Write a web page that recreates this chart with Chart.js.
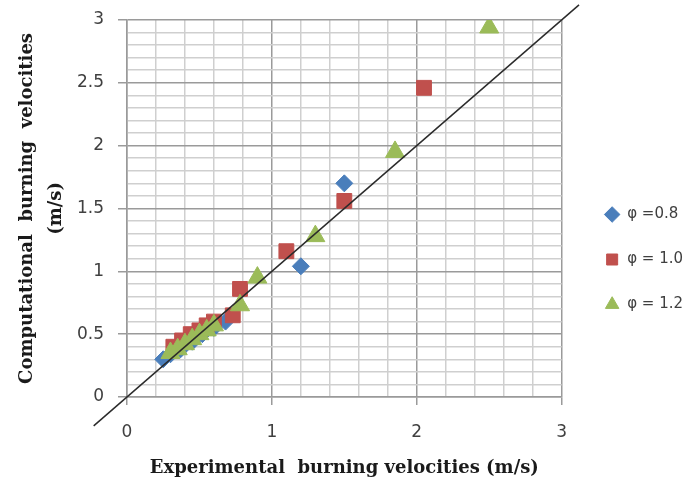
<!DOCTYPE html>
<html>
<head>
<meta charset="utf-8">
<script src="https://cdn.jsdelivr.net/npm/chart.js@4/dist/chart.umd.min.js"></script>
<style>
    html, body { margin: 0; padding: 0; background: #fff; }
    #wrap { width: 697px; height: 485px; }
</style>
</head>
<body>
<div id="wrap"><canvas id="chart" width="697" height="485"></canvas></div>
<script>
// values
const seriesNames = ['φ =0.8', 'φ = 1.0', 'φ = 1.2'];

const phi08X = [0.25, 0.30, 0.37, 0.45, 0.52, 0.60, 0.68, 1.20, 1.50];
const phi08Y = [0.30, 0.34, 0.38, 0.44, 0.50, 0.55, 0.60, 1.04, 1.70];

const phi10X = [0.32, 0.38, 0.44, 0.50, 0.55, 0.60, 0.73, 0.78, 1.10, 1.50, 2.05];
const phi10Y = [0.40, 0.45, 0.50, 0.53, 0.57, 0.60, 0.65, 0.86, 1.16, 1.56, 2.46];

const phi12X = [0.30, 0.35, 0.40, 0.45, 0.50, 0.55, 0.60, 0.78, 0.90, 1.30, 1.85, 2.50];
const phi12Y = [0.35, 0.38, 0.42, 0.46, 0.50, 0.53, 0.57, 0.73, 0.95, 1.28, 1.95, 2.94];

// y = x reference line, drawn past the plot edges
const refLine = [-0.23, 3.12];

const xTickLabels = ['0', '1', '2', '3'];
const yTickLabels = ['0', '0.5', '1', '1.5', '2', '2.5', '3'];

function toPoints(xs, ys) {
    return xs.map((x, i) => ({ x: x, y: ys[i] }));
}

function isMajor(v, step) {
    const r = v / step;
    return Math.abs(r - Math.round(r)) < 1e-6;
}

// nudge the legend block to where it sits in the original
const legendShift = {
    id: 'legendShift',
    afterLayout(chart) {
        const lg = chart.legend;
        lg.left += 13; lg.right += 13;
        lg.top += 10; lg.bottom += 10;
    }
};

const tickFont = { family: 'DejaVu Sans', size: 17, lineHeight: 0.7 };

new Chart(document.getElementById('chart'), {
    type: 'scatter',
    plugins: [legendShift],
    data: {
        datasets: [
            {
                type: 'line',
                label: 'ref',
                data: refLine.map(v => ({ x: v, y: v })),
                borderColor: '#2b2b2b',
                borderWidth: 1.5,
                pointRadius: 0,
                clip: false,
                order: 0
            },
            {
                label: seriesNames[0],
                data: toPoints(phi08X, phi08Y),
                pointStyle: 'rectRot',
                pointRadius: 8.5,
                backgroundColor: '#4a7ebb',
                borderColor: '#4a7ebb',
                order: 3
            },
            {
                label: seriesNames[1],
                data: toPoints(phi10X, phi10Y),
                pointStyle: 'rect',
                pointRadius: 10.5,
                backgroundColor: '#c0504d',
                borderColor: '#c0504d',
                order: 2
            },
            {
                label: seriesNames[2],
                data: toPoints(phi12X, phi12Y),
                pointStyle: 'triangle',
                pointRadius: 11,
                backgroundColor: '#9bbb59',
                borderColor: '#9bbb59',
                order: 1
            }
        ]
    },
    options: {
        responsive: false,
        animation: false,
        layout: { padding: { top: 14, left: 0, right: 17, bottom: 0 } },
        plugins: {
            tooltip: { enabled: false },
            legend: {
                position: 'right',
                labels: {
                    usePointStyle: true,
                    boxHeight: 11,
                    font: { family: 'DejaVu Sans', size: 15 },
                    color: '#404040',
                    padding: 30,
                    filter: item => item.text !== 'ref',
                    sort: (a, b) => a.datasetIndex - b.datasetIndex
                }
            }
        },
        scales: {
            x: {
                type: 'linear',
                min: 0,
                max: 3,
                afterFit: scale => { scale.height = 88; },
                ticks: {
                    stepSize: 0.2,
                    autoSkip: false,
                    maxRotation: 0,
                    padding: 22,
                    font: tickFont,
                    color: '#404040',
                    callback: v => isMajor(v, 1) ? xTickLabels[Math.round(v)] : ''
                },
                grid: {
                    color: c => isMajor(c.tick.value, 1) ? '#9a9a9a' : '#cfcfcf',
                    lineWidth: 1.5,
                    tickLength: 8,
                    tickColor: c => isMajor(c.tick.value, 1) ? '#9a9a9a' : 'rgba(0,0,0,0)'
                },
                border: { color: '#9a9a9a', width: 1.5 },
                title: {
                    display: true,
                    text: 'Experimental  burning velocities (m/s)',
                    font: { family: 'DejaVu Serif', size: 18, weight: 'bold' },
                    color: '#1a1a1a',
                    padding: { top: 6, bottom: 6 }
                }
            },
            y: {
                type: 'linear',
                min: 0,
                max: 3,
                afterFit: scale => { scale.width = 127; },
                ticks: {
                    stepSize: 0.1,
                    autoSkip: false,
                    padding: 14,
                    font: tickFont,
                    color: '#404040',
                    callback: v => isMajor(v, 0.5) ? yTickLabels[Math.round(v / 0.5)] : ''
                },
                grid: {
                    color: c => isMajor(c.tick.value, 0.5) ? '#9a9a9a' : '#cfcfcf',
                    lineWidth: 1.5,
                    tickLength: 9,
                    tickColor: c => isMajor(c.tick.value, 0.5) ? '#9a9a9a' : 'rgba(0,0,0,0)'
                },
                border: { color: '#9a9a9a', width: 1.5 },
                title: {
                    display: true,
                    text: ['Computational  burning  velocities', '(m/s)'],
                    font: { family: 'DejaVu Serif', size: 18, weight: 'bold', lineHeight: 1.6 },
                    color: '#1a1a1a',
                    padding: { top: 13, bottom: 0 }
                }
            }
        }
    }
});
</script>
</body>
</html>
